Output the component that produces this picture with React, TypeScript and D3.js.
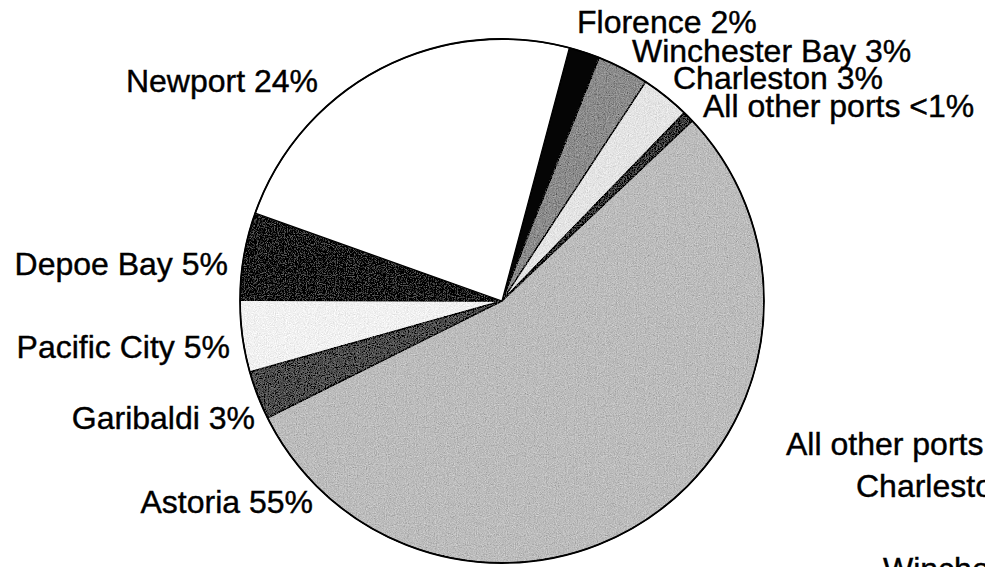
import React from "react";
import * as d3 from "d3";

// landings share by port, clockwise from Florence (angles)
const ports = ["Florence", "Winchester Bay", "Charleston", "All other ports", "Astoria", "Garibaldi", "Pacific City", "Depoe Bay", "Newport"];
const shares = [1.9, 3.2, 3.0, 0.7, 54.7, 3.0, 4.4, 5.4, 23.7];
const pctLabels = ["2%", "3%", "3%", "<1%", "55%", "3%", "5%", "5%", "24%"];
const fills = ["#050505", "#8c8c8c", "#e4e4e4", "#3a3a3a", "#bcbcbc", "#4e4e4e", "#f1f1f1", "#141414", "#ffffff"];
const grainy = [false, true, true, true, true, true, true, true, false];

// where the labels sit (x, baseline, anchor)
const labelLayout: [number, number, string][] = [
  [577, 33, "start"],
  [632, 62, "start"],
  [673, 89, "start"],
  [703, 117, "start"],
  [313, 513, "end"],
  [255, 429, "end"],
  [230, 358, "end"],
  [228, 275, "end"],
  [318, 92, "end"],
];

// labels of the next chart, cut off at the right edge of the scan
const strayLabels = ["All other ports", "Charleston", "Winchester"];
const strayLayout: [number, number][] = [[786, 455], [856, 497], [883, 580]];

const W = 985;
const H = 567;
const cx = 502;
const cy = 301;
const radius = 262;
const startDeg = 14.9;

export default function App() {
  const pie = d3
    .pie<number>()
    .sort(null)
    .value((d) => d)
    .startAngle((startDeg * Math.PI) / 180)
    .endAngle((startDeg * Math.PI) / 180 + 2 * Math.PI);
  const arcs = pie(shares);
  const arc = d3.arc<d3.PieArcDatum<number>>().innerRadius(0).outerRadius(radius);

  const font = "'Liberation Sans', Arial, sans-serif";

  return (
    <svg
      width={W}
      height={H}
      viewBox={`0 0 ${W} ${H}`}
      style={{ position: "absolute", left: 0, top: 0, background: "#fff" }}
    >
      <defs>
        <filter id="grain" x="0" y="0" width="100%" height="100%">
          <feTurbulence type="fractalNoise" baseFrequency="0.9" numOctaves="2" seed="3" result="noise" />
          <feColorMatrix
            in="noise"
            type="matrix"
            values="0.33 0.33 0.33 0 0  0.33 0.33 0.33 0 0  0.33 0.33 0.33 0 0  0 0 0 0 1"
            result="gray"
          />
          <feComposite in="gray" in2="SourceGraphic" operator="arithmetic" k1="0" k2="0.8" k3="1" k4="-0.4" result="mixed" />
          <feComposite in="mixed" in2="SourceGraphic" operator="in" />
        </filter>
      </defs>

      <g transform={`translate(${cx},${cy})`}>
        {arcs.map((a, i) => (
          <path
            key={ports[i]}
            d={arc(a) || ""}
            fill={fills[i]}
            stroke="#000"
            strokeWidth={1.3}
            strokeLinejoin="round"
            filter={grainy[i] ? "url(#grain)" : undefined}
          />
        ))}
        <circle r={radius} fill="none" stroke="#000" strokeWidth={1.8} />
      </g>

      <g fontFamily={font} fontSize={32} fill="#000" stroke="#000" strokeWidth={0.4}>
        {ports.map((p, i) => (
          <text key={p} x={labelLayout[i][0]} y={labelLayout[i][1]} textAnchor={labelLayout[i][2] as any}>
            {`${p} ${pctLabels[i]}`}
          </text>
        ))}
        {strayLabels.map((s, i) => (
          <text key={s} x={strayLayout[i][0]} y={strayLayout[i][1]}>
            {s}
          </text>
        ))}
      </g>
    </svg>
  );
}
